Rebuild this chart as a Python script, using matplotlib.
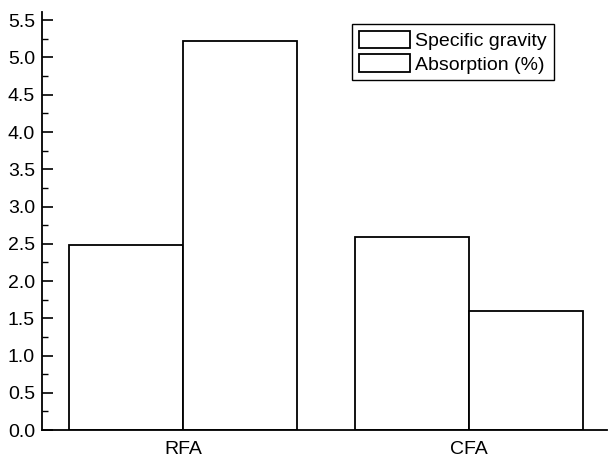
import numpy as np
import matplotlib.pyplot as plt
from matplotlib.ticker import MultipleLocator

plt.rcParams["font.family"] = ["Liberation Sans", "DejaVu Sans"]

categories = ["RFA", "CFA"]
specific_gravity = [2.48, 2.59]
absorption = [5.22, 1.60]

fig = plt.figure(figsize=(6.09, 4.62), dpi=100)
ax = fig.add_axes([0.069, 0.069, 0.928, 0.905])

x = np.arange(len(categories))
w = 0.4
ax.bar(x - w / 2, specific_gravity, w, color="white", edgecolor="black",
       linewidth=1.3, label="Specific gravity")
ax.bar(x + w / 2, absorption, w, color="white", edgecolor="black",
       linewidth=1.3, label="Absorption (%)")

ax.set_xlim(-0.495, 1.485)
ax.set_ylim(0, 5.61)
ax.set_xticks(x)
ax.set_xticklabels(categories, fontsize=14)
ax.tick_params(axis="x", length=0, pad=8)

ax.yaxis.set_major_locator(MultipleLocator(0.5))
ax.yaxis.set_minor_locator(MultipleLocator(0.25))
ax.yaxis.set_major_formatter(plt.FormatStrFormatter("%.1f"))
ax.tick_params(axis="y", which="major", direction="in", length=8, width=1.2,
               labelsize=14, pad=5)
ax.tick_params(axis="y", which="minor", direction="in", length=4, width=1)

for s in ["top", "right"]:
    ax.spines[s].set_visible(False)
for s in ["left", "bottom"]:
    ax.spines[s].set_linewidth(1.3)

ax.legend(loc="upper left", bbox_to_anchor=(0.549, 0.971), fontsize=14,
          frameon=True, fancybox=False, edgecolor="black", framealpha=1,
          handlelength=2.6, handleheight=1.0, handletextpad=0.3,
          borderpad=0.35, labelspacing=0.2, borderaxespad=0)

fig.savefig("out.png", dpi=100)
